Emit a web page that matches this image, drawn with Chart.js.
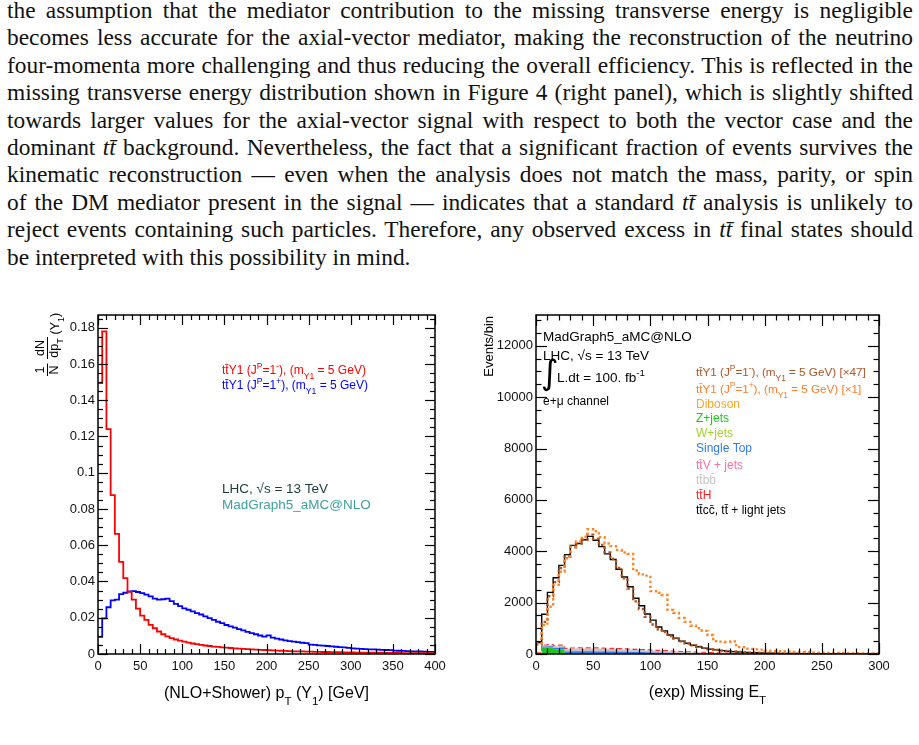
<!DOCTYPE html>
<html><head><meta charset="utf-8">
<script src="https://cdn.jsdelivr.net/npm/chart.js@4.4.1/dist/chart.umd.min.js"></script>
<style>
html,body{margin:0;padding:0;background:#fff;width:919px;height:745px;overflow:hidden;}
#para{position:absolute;left:7px;top:-2px;width:906px;font-family:'Liberation Serif','Times New Roman',serif;font-size:20px;line-height:27.4px;color:#111;}
.ln{text-align:justify;text-align-last:justify;white-space:nowrap;}
.ln.last{text-align-last:left;}
#c1wrap{position:absolute;left:0;top:300px;width:460px;height:420px;}
#c2wrap{position:absolute;left:460px;top:300px;width:429px;height:420px;overflow:hidden;}
canvas{display:block;}
</style></head>
<body>
<div id="para">
<div class="ln">the assumption that the mediator contribution to the missing transverse energy is negligible</div>
<div class="ln">becomes less accurate for the axial-vector mediator, making the reconstruction of the neutrino</div>
<div class="ln">four-momenta more challenging and thus reducing the overall efficiency. This is reflected in the</div>
<div class="ln">missing transverse energy distribution shown in Figure 4 (right panel), which is slightly shifted</div>
<div class="ln">towards larger values for the axial-vector signal with respect to both the vector case and the</div>
<div class="ln">dominant <i>tt&#772;</i> background. Nevertheless, the fact that a significant fraction of events survives the</div>
<div class="ln">kinematic reconstruction — even when the analysis does not match the mass, parity, or spin</div>
<div class="ln">of the DM mediator present in the signal — indicates that a standard <i>tt&#772;</i> analysis is unlikely to</div>
<div class="ln">reject events containing such particles. Therefore, any observed excess in <i>tt&#772;</i> final states should</div>
<div class="ln last">be interpreted with this possibility in mind.</div>
</div>
<div id="c1wrap"><canvas id="c1" width="460" height="420" style="width:460px;height:420px"></canvas></div>
<div id="c2wrap"><canvas id="c2" width="459" height="420" style="width:459px;height:420px"></canvas></div>
<script>
// ---------------- DATA ----------------
// Left panel: normalised pT(Y1) distributions, 5 GeV bins from 0 to 400 GeV
const ptBinWidth = 5;
const ptVector = [ // tt~Y1 (J^P=1^-), red
0.1495,0.178,0.124,0.0876,0.0663,0.0508,0.0418,0.0343,0.0300,0.0250,
0.0212,0.0188,0.0161,0.0142,0.0124,0.0109,0.0097,0.0088,0.0080,0.0074,
0.0068,0.0063,0.0058,0.0054,0.0050,0.0047,0.0044,0.0041,0.0039,0.0037,
0.0035,0.0033,0.0031,0.0030,0.0028,0.0027,0.0026,0.0024,0.0023,0.0022,
0.0021,0.0020,0.0019,0.0018,0.0017,0.0016,0.0015,0.0015,0.0014,0.0013,
0.0013,0.0012,0.0012,0.0011,0.0011,0.0010,0.0010,0.0010,0.0009,0.0009,
0.0009,0.0008,0.0008,0.0008,0.0007,0.0007,0.0007,0.0007,0.0006,0.0006,
0.0006,0.0006,0.0005,0.0005,0.0005,0.0005,0.0005,0.0004,0.0004,0.0004];
const ptAxial = [ // tt~Y1 (J^P=1^+), blue
0.0095,0.0196,0.0258,0.0296,0.0300,0.0330,0.0338,0.0345,0.0347,0.0342,
0.0336,0.0328,0.0318,0.0305,0.0300,0.0302,0.0306,0.0292,0.0277,0.0264,
0.0252,0.0244,0.0235,0.0226,0.0218,0.0208,0.0198,0.0188,0.0178,0.0170,
0.0160,0.0152,0.0145,0.0137,0.0130,0.0122,0.0115,0.0109,0.0102,0.0096,
0.0103,0.0090,0.0085,0.0080,0.0075,0.0071,0.0068,0.0065,0.0062,0.0060,
0.0052,0.0050,0.0048,0.0046,0.0044,0.0042,0.0040,0.0038,0.0036,0.0034,
0.0031,0.0030,0.0028,0.0027,0.0026,0.0025,0.0024,0.0023,0.0022,0.0021,
0.0019,0.0018,0.0017,0.0016,0.0015,0.0015,0.0014,0.0013,0.0012,0.0012];
const ptXTicks = [0,50,100,150,200,250,300,350,400];
const ptYTicks = [0,0.02,0.04,0.06,0.08,0.1,0.12,0.14,0.16,0.18];

// Right panel: missing ET, events/bin, 5 GeV bins from 0 to 300 GeV
const metBinWidth = 5;
const metTtbarLight = [
450,1550,2400,2970,3450,3870,4230,4300,4450,4580,
4430,4180,3900,3680,3300,3000,2620,2170,1880,1560,
1320,1050,900,740,620,500,420,340,280,230,
190,160,130,110,92,78,65,55,47,40,
34,30,26,23,20,18,16,14,12,11,
10,9,8,7,6,6,5,5,4,4];
const metSignalVectorX47 = [
380,1250,2250,2800,3350,3800,4150,4300,4450,4650,
4480,4250,3950,3700,3350,2950,2550,2050,1750,1450,
1150,960,850,700,600,490,410,340,280,230,
190,160,135,115,95,80,68,58,50,43,
37,32,28,25,22,19,17,15,13,12,
10,9,8,7,6,6,5,5,4,4];
const metSignalAxialX1 = [
415,1130,1840,2700,3200,3730,4180,4380,4570,4860,
4780,4550,4300,4200,4050,3950,3900,3250,3100,3050,
2450,2380,2300,1720,1600,1400,1250,1100,1000,900,
740,500,480,470,490,270,260,200,180,170,
130,120,110,100,90,80,75,70,60,55,
50,45,40,38,35,30,28,25,22,20];
const metDiboson = [
0,3,4,5,5,5,5,5,4,4, 4,4,3,3,3,3,2,2,2,2, 2,2,1,1,1,1,1,1,1,1,
0,0,0,0,0,0,0,0,0,0, 0,0,0,0,0,0,0,0,0,0, 0,0,0,0,0,0,0,0,0,0];
const metZjets = [
0,260,260,180,180,15,12,10,8,7, 6,5,4,4,3,3,2,2,2,1, 1,1,1,1,0,0,0,0,0,0,
0,0,0,0,0,0,0,0,0,0, 0,0,0,0,0,0,0,0,0,0, 0,0,0,0,0,0,0,0,0,0];
const metWjets = [
0,6,5,3,2,0,0,0,0,0, 0,0,0,0,0,0,0,0,0,0, 0,0,0,0,0,0,0,0,0,0,
0,0,0,0,0,0,0,0,0,0, 0,0,0,0,0,0,0,0,0,0, 0,0,0,0,0,0,0,0,0,0];
const metSingleTop = [
10,25,35,50,65,80,88,92,92,92, 92,90,88,86,84,80,78,74,70,65, 60,55,50,45,40,36,32,28,25,22,
19,16,14,12,10,8,7,6,5,4, 3,3,2,2,2,1,1,1,1,1, 0,0,0,0,0,0,0,0,0,0];
const metTtV = [
4,8,10,12,12,14,14,15,15,15, 15,15,14,14,13,12,12,11,10,10, 9,8,8,7,6,5,5,4,4,4,
3,3,2,2,2,1,1,1,1,1, 1,1,1,0,0,0,0,0,0,0, 0,0,0,0,0,0,0,0,0,0];
const metTtbb = [
20,25,30,40,55,75,85,90,90,90, 90,88,86,84,82,78,75,70,66,62, 58,54,50,46,42,38,34,30,26,23,
20,17,14,12,10,8,7,6,5,4, 3,3,2,2,2,1,1,1,1,1, 1,1,0,0,0,0,0,0,0,0];
const metTtH = [
8,15,20,25,25,28,30,30,30,30, 30,29,28,27,26,25,24,23,22,21, 20,19,18,17,16,15,14,13,12,11,
10,9,8,7,6,5,5,4,4,3, 3,3,2,2,2,1,1,1,1,1, 0,0,0,0,0,0,0,0,0,0];
const metXTicks = [0,50,100,150,200,250,300];
const metYTicks = [0,2000,4000,6000,8000,10000,12000];

// ---------------- PARAGRAPH FIT ----------------
(function(){
  const para = document.getElementById('para');
  const probe = document.createElement('span');
  probe.style.cssText = 'position:absolute;visibility:hidden;white-space:nowrap;font-size:20px;';
  para.appendChild(probe);
  let maxW = 0;
  para.querySelectorAll('.ln').forEach(l => {
    if (l.classList.contains('last')) return;
    probe.innerHTML = l.innerHTML;
    maxW = Math.max(maxW, probe.getBoundingClientRect().width);
  });
  probe.remove();
  const fs = 20 * 898 / maxW;
  para.style.fontSize = fs + 'px';
  const baseInLine = (27.4 - 1.107 * fs) / 2 + 0.891 * fs;
  para.style.top = (18.5 - baseInLine) + 'px';
})();

// ---------------- HELPERS ----------------
const FONT = '"Liberation Sans", Arial, Helvetica, sans-serif';
function histPoints(values, w) {
  const pts = values.map((v, i) => ({x: i * w, y: v}));
  pts.push({x: values.length * w, y: values[values.length - 1]});
  return pts;
}
function parseRich(str) {
  const segs = []; let buf = '', i = 0;
  while (i < str.length) {
    const c = str[i];
    if ((c === '^' || c === '_') && str[i + 1] === '{') {
      if (buf) { segs.push({t: buf, m: 0}); buf = ''; }
      const j = str.indexOf('}', i);
      segs.push({t: str.slice(i + 2, j), m: c === '^' ? 1 : -1});
      i = j + 1;
    } else { buf += c; i++; }
  }
  if (buf) segs.push({t: buf, m: 0});
  return segs;
}
function drawRich(ctx, str, x, y, size, color, align) {
  const segs = parseRich(str);
  let w = 0;
  segs.forEach(s => {
    s.size = s.m ? size * 0.72 : size;
    ctx.font = s.size + 'px ' + FONT;
    s.w = ctx.measureText(s.t).width; w += s.w;
  });
  let cx = align === 'center' ? x - w / 2 : (align === 'right' ? x - w : x);
  ctx.save();
  ctx.fillStyle = color; ctx.textAlign = 'left'; ctx.textBaseline = 'alphabetic';
  segs.forEach(s => {
    ctx.font = s.size + 'px ' + FONT;
    const dy = s.m === 1 ? -size * 0.42 : (s.m === -1 ? size * 0.45 : 0);
    ctx.fillText(s.t, cx, y + dy);
    cx += s.w;
  });
  ctx.restore();
}
function seg(ctx, x1, y1, x2, y2) { ctx.beginPath(); ctx.moveTo(x1, y1); ctx.lineTo(x2, y2); ctx.stroke(); }

const rootFrame = {
  id: 'rootFrame',
  afterDraw(chart, args, o) {
    const {ctx, chartArea: a, scales: {x, y}} = chart;
    ctx.save();
    ctx.strokeStyle = '#000'; ctx.lineWidth = 1.2;
    const nx = Math.round((x.max - x.min) / o.xMinor);
    for (let i = 0; i <= nx; i++) {
      const v = x.min + i * o.xMinor;
      const px = Math.round(x.getPixelForValue(v)) + 0.5;
      const major = Math.abs(v / o.xMajor - Math.round(v / o.xMajor)) < 1e-6;
      const L = major ? o.majorLen : o.minorLen;
      seg(ctx, px, a.bottom, px, a.bottom - L);
      seg(ctx, px, a.top, px, a.top + L);
    }
    const ny = Math.floor((y.max - y.min) / o.yMinor + 1e-6);
    for (let i = 0; i <= ny; i++) {
      const v = y.min + i * o.yMinor;
      const py = Math.round(y.getPixelForValue(v)) + 0.5;
      const major = Math.abs(v / o.yMajor - Math.round(v / o.yMajor)) < 1e-6;
      const L = major ? o.majorLen : o.minorLen;
      seg(ctx, a.left, py, a.left + L, py);
      seg(ctx, a.right, py, a.right - L, py);
    }
    ctx.lineWidth = 1.5;
    ctx.strokeRect(a.left, a.top, a.right - a.left, a.bottom - a.top);
    if (o.draw) o.draw(ctx, chart);
    ctx.restore();
  }
};

function axisCommon(min, max, tickArr, fmt, isX) {
  return {
    type: 'linear', min: min, max: max,
    afterBuildTicks: s => { s.ticks = tickArr.map(v => ({value: v})); },
    ticks: {autoSkip: false, maxRotation: 0, includeBounds: false, padding: isX ? 5 : 3,
            color: '#111', font: {family: FONT, size: 13}, callback: fmt},
    grid: {display: false, drawTicks: false},
    border: {display: false}
  };
}

// ---------------- LEFT CHART ----------------
const leftX = axisCommon(0, 400, ptXTicks, v => String(v), true);
leftX.afterFit = s => { s.height = 66; };
const leftY = axisCommon(0, 0.187, ptYTicks, v => String(+v.toFixed(2)), false);
leftY.afterFit = s => { s.width = 98; };

new Chart(document.getElementById('c1'), {
  type: 'line',
  data: {datasets: [
    {label: 'ttY1 (JP=1-), (mY1 = 5 GeV)', data: histPoints(ptVector, ptBinWidth), borderColor: '#ff0000',
     borderWidth: 1.8, stepped: 'before', pointRadius: 0, fill: false},
    {label: 'ttY1 (JP=1+), (mY1 = 5 GeV)', data: histPoints(ptAxial, ptBinWidth), borderColor: '#0000ff',
     borderWidth: 1.8, stepped: 'before', pointRadius: 0, fill: false}
  ]},
  options: {
    responsive: false, animation: false, devicePixelRatio: 1,
    layout: {padding: {left: 0, top: 15, right: 25, bottom: 0}},
    plugins: {legend: {display: false}, tooltip: {enabled: false},
      rootFrame: {xMinor: 10, xMajor: 50, yMinor: 0.005, yMajor: 0.02, majorLen: 10, minorLen: 5,
        draw: (ctx) => {
          drawRich(ctx, 'tt\u0304Y1 (J^{P}=1^{-}), (m_{Y1} = 5 GeV)', 222, 74, 12, '#ff0000', 'left');
          drawRich(ctx, 'tt\u0304Y1 (J^{P}=1^{+}), (m_{Y1} = 5 GeV)', 222, 89, 12, '#0000ff', 'left');
          drawRich(ctx, 'LHC, \u221As = 13 TeV', 222, 192.5, 13.5, '#1b3b3b', 'left');
          drawRich(ctx, 'MadGraph5_aMC@NLO', 222, 209, 13.5, '#3d9f9f', 'left');
          drawRich(ctx, '(NLO+Shower) p_{T} (Y_{1}) [GeV]', 266.5, 398, 16, '#000', 'center');
          // rotated y title: 1/N dN/dpT (Y1)
          ctx.save();
          ctx.translate(47, 76); ctx.rotate(-Math.PI / 2);
          ctx.strokeStyle = '#000'; ctx.lineWidth = 1;
          drawRich(ctx, '1', 6, -3, 12.5, '#000', 'center');
          drawRich(ctx, 'N', 6, 10.5, 12.5, '#000', 'center');
          seg(ctx, 0, 0.5, 12.5, 0.5);
          drawRich(ctx, 'dN', 28, -3, 12.5, '#000', 'center');
          drawRich(ctx, 'dp_{T}', 28, 10.5, 12.5, '#000', 'center');
          seg(ctx, 17, 0.5, 39, 0.5);
          drawRich(ctx, '(Y_{1})', 41.5, 11.5, 12.5, '#000', 'left');
          ctx.restore();
        }}},
    scales: {x: leftX, y: leftY}
  },
  plugins: [rootFrame]
});

// ---------------- RIGHT CHART ----------------
const rightX = axisCommon(0, 300, metXTicks, v => String(v), true);
rightX.afterFit = s => { s.height = 66; };
const rightY = axisCommon(0, 13200, metYTicks, v => String(v), false);
rightY.afterFit = s => { s.width = 76; };
rightY.stacked = true;

function bgSet(label, arr, fillColor, fill) {
  return {label: label, data: histPoints(arr, metBinWidth), stack: 'bkg', stepped: 'before', pointRadius: 0,
          borderWidth: 0, borderColor: fillColor, backgroundColor: fillColor, fill: fill};
}
new Chart(document.getElementById('c2'), {
  type: 'line',
  data: {datasets: [
    {label: 'ttY1 (JP=1+) x1', data: histPoints(metSignalAxialX1, metBinWidth), stack: 's1', borderColor: '#ff8424',
     borderWidth: 2.4, borderDash: [2.4, 2.6], stepped: 'before', pointRadius: 0, fill: false},
    {label: 'ttY1 (JP=1-) x47', data: histPoints(metSignalVectorX47, metBinWidth), stack: 's2', borderColor: '#b2531c',
     borderWidth: 2.4, borderDash: [2.4, 2.6], stepped: 'before', pointRadius: 0, fill: false},
    {label: 'ttcc, tt + light jets', data: histPoints(metTtbarLight, metBinWidth), stack: 's3', borderColor: '#000',
     borderWidth: 1.4, stepped: 'before', pointRadius: 0, fill: false},
    bgSet('Diboson', metDiboson, '#ffa41c', 'origin'),
    bgSet('Z+jets', metZjets, '#1fc41f', '-1'),
    bgSet('W+jets', metWjets, '#a6cf2c', '-1'),
    bgSet('Single Top', metSingleTop, '#2f7cf0', '-1'),
    bgSet('ttV + jets', metTtV, '#ff7aae', '-1'),
    bgSet('ttbb', metTtbb, '#c4c4c4', '-1'),
    {label: 'ttH', data: histPoints(metTtH, metBinWidth), stack: 'bkg', stepped: 'before', pointRadius: 0,
     borderWidth: 1.2, borderColor: '#ff3030', borderDash: [5, 3], backgroundColor: 'rgba(255,160,160,0.35)', fill: '-1'}
  ]},
  options: {
    responsive: false, animation: false, devicePixelRatio: 1,
    layout: {padding: {left: 0, top: 15, right: 40, bottom: 0}},
    plugins: {legend: {display: false}, tooltip: {enabled: false},
      rootFrame: {xMinor: 10, xMajor: 50, yMinor: 500, yMajor: 2000, majorLen: 11, minorLen: 5.5,
        draw: (ctx) => {
          drawRich(ctx, 'MadGraph5_aMC@NLO', 83, 41, 13.5, '#000', 'left');
          drawRich(ctx, 'LHC, \u221As = 13 TeV', 83, 60, 13.5, '#000', 'left');
          ctx.save(); ctx.fillStyle = '#000'; ctx.font = '34px "DejaVu Sans", sans-serif'; ctx.textAlign = 'left';
          ctx.fillText('\u222B', 81, 84); ctx.restore();
          drawRich(ctx, 'L.dt = 100. fb^{-1}', 97, 81.5, 13.5, '#000', 'left');
          drawRich(ctx, 'e+\u03BC channel', 83, 105, 12, '#000', 'left');
          const lx = 236;
          drawRich(ctx, 'tt\u0304Y1 (J^{P}=1^{-}), (m_{Y1} = 5 GeV) [\u00D747]', lx, 76, 11.7, '#ad5426', 'left');
          drawRich(ctx, 'tt\u0304Y1 (J^{P}=1^{+}), (m_{Y1} = 5 GeV) [\u00D71]', lx, 92.5, 11.7, '#ff7d24', 'left');
          drawRich(ctx, 'Diboson', lx, 108, 12, '#ffa41c', 'left');
          drawRich(ctx, 'Z+jets', lx, 122, 12, '#1fc41f', 'left');
          drawRich(ctx, 'W+jets', lx, 137, 12, '#a6cf2c', 'left');
          drawRich(ctx, 'Single Top', lx, 152, 12, '#2f7cf0', 'left');
          drawRich(ctx, 'tt\u0304V + jets', lx, 169, 12, '#ff6fa4', 'left');
          drawRich(ctx, 'tt\u0304bb\u0304', lx, 184, 12, '#c4c4c4', 'left');
          drawRich(ctx, 'tt\u0304H', lx, 199, 12, '#ff2020', 'left');
          drawRich(ctx, 'tt\u0304cc\u0304, tt\u0304 + light jets', lx, 214, 12, '#000', 'left');
          drawRich(ctx, '(exp) Missing E_{T}', 247.5, 397, 16, '#000', 'center');
          ctx.save(); ctx.translate(32.5, 16); ctx.rotate(-Math.PI / 2);
          drawRich(ctx, 'Events/bin', 0, 0, 13, '#000', 'right');
          ctx.restore();
        }}},
    scales: {x: rightX, y: rightY}
  },
  plugins: [rootFrame]
});
</script>
</body></html>
